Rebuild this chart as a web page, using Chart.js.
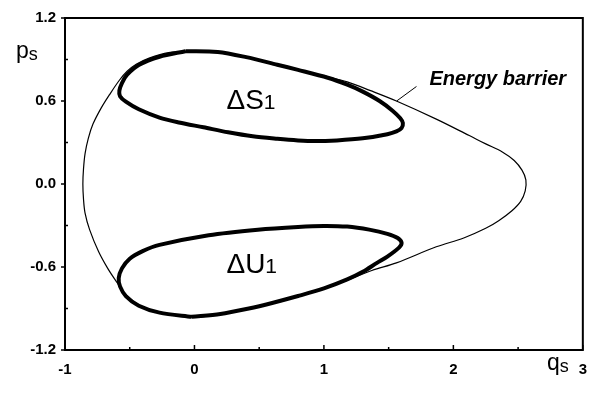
<!DOCTYPE html>
<html>
<head>
<meta charset="utf-8">
<script src="https://cdn.jsdelivr.net/npm/chart.js@4/dist/chart.umd.min.js"></script>
<style>
  html, body { margin: 0; padding: 0; background: #fff; }
  canvas { display: block; }
</style>
</head>
<body>
<canvas id="phaseChart" width="598" height="395"></canvas>
<script>
// energy barrier (thin closed curve), starting at the top, going round the left side
const barrierQ = [0.00, -0.20, -0.35, -0.45, -0.52, -0.58, -0.656, -0.72, -0.784, -0.82, -0.845, -0.857, -0.862, -0.857, -0.845, -0.81, -0.74, -0.67, -0.60, -0.54, -0.47, -0.38, -0.25, -0.02,
    0.20, 0.42, 0.60, 0.80, 1.00, 1.18, 1.37, 1.56, 1.868, 2.08, 2.25, 2.35, 2.45, 2.52, 2.555, 2.56, 2.53, 2.47, 2.378, 2.25, 2.123, 1.868, 1.56, 1.36, 1.18, 1.03, 0.80, 0.64, 0.40, 0.18, 0.00];
const barrierP = [0.962, 0.95, 0.91, 0.865, 0.815, 0.75, 0.646, 0.55, 0.433, 0.33, 0.22, 0.11, 0.00, -0.11, -0.21, -0.33, -0.49, -0.61, -0.71, -0.79, -0.85, -0.90, -0.935, -0.962,
    -0.942, -0.902, -0.862, -0.812, -0.755, -0.695, -0.625, -0.57, -0.454, -0.39, -0.32, -0.265, -0.195, -0.125, -0.05, 0.03, 0.10, 0.17, 0.232, 0.29, 0.35, 0.469, 0.60, 0.675, 0.738, 0.775, 0.825, 0.862, 0.917, 0.957, 0.962];

// ΔS1 loop, starting at its top
const upperLoopQ = [-0.07, 0.18, 0.40, 0.64, 0.80, 1.03, 1.18, 1.30, 1.43, 1.53, 1.59, 1.61, 1.60, 1.56, 1.49, 1.30, 1.10, 0.93, 0.80, 0.64, 0.45, 0.26, 0.07, -0.12, -0.27, -0.43, -0.53, -0.575, -0.58, -0.56, -0.52, -0.43, -0.27, -0.07];
const upperLoopP = [0.96, 0.955, 0.917, 0.862, 0.825, 0.768, 0.718, 0.668, 0.60, 0.53, 0.475, 0.44, 0.405, 0.38, 0.36, 0.33, 0.315, 0.31, 0.315, 0.327, 0.345, 0.374, 0.41, 0.445, 0.48, 0.54, 0.595, 0.635, 0.675, 0.73, 0.79, 0.86, 0.92, 0.96];

// ΔU1 loop, starting at its bottom
const lowerLoopQ = [-0.02, -0.27, -0.43, -0.53, -0.575, -0.585, -0.56, -0.50, -0.40, -0.27, 0.11, 0.49, 0.80, 1.00, 1.18, 1.35, 1.49, 1.57, 1.60, 1.58, 1.49, 1.41, 1.30, 1.18, 1.00, 0.80, 0.60, 0.42, 0.20, -0.02];
const lowerLoopP = [-0.96, -0.93, -0.88, -0.81, -0.74, -0.68, -0.61, -0.54, -0.485, -0.44, -0.37, -0.33, -0.31, -0.303, -0.308, -0.33, -0.36, -0.39, -0.425, -0.46, -0.525, -0.57, -0.635, -0.69, -0.755, -0.81, -0.86, -0.90, -0.94, -0.96];

// pointer from the label to the barrier curve
const pointerQ = [1.562, 1.715];
const pointerP = [0.60, 0.705];

const xTicks = [-1, 0, 1, 2, 3];
const yTicks = [-1.2, -0.6, 0.0, 0.6, 1.2];
const xMinor = [-0.5, 0.5, 1.5, 2.5];
const yMinor = [-0.9, -0.3, 0.3, 0.9];

function toPoints(qs, ps) {
    return qs.map((q, i) => ({ x: q, y: ps[i] }));
}

const FONT = "'Liberation Sans', Arial, sans-serif";
Chart.defaults.font.family = FONT;
Chart.defaults.color = "#000";

const decor = {
    id: "decor",
    afterDatasetsDraw(chart) {
        const ctx = chart.ctx;
        const { left, right, top, bottom } = chart.chartArea;
        const xs = chart.scales.x;
        const ys = chart.scales.y;
        ctx.save();
        ctx.strokeStyle = "#000";
        ctx.lineWidth = 2;
        ctx.strokeRect(left, top, right - left, bottom - top);

        ctx.lineWidth = 1.5;
        ctx.beginPath();
        yTicks.forEach(v => { const y = ys.getPixelForValue(v); ctx.moveTo(left - 4, y); ctx.lineTo(left, y); });
        yMinor.forEach(v => { const y = ys.getPixelForValue(v); ctx.moveTo(left, y); ctx.lineTo(left + 3, y); });
        xTicks.forEach(v => { const x = xs.getPixelForValue(v); ctx.moveTo(x, bottom); ctx.lineTo(x, bottom - 5); });
        xMinor.forEach(v => { const x = xs.getPixelForValue(v); ctx.moveTo(x, bottom); ctx.lineTo(x, bottom - 3); });
        ctx.stroke();

        ctx.fillStyle = "#000";
        ctx.textBaseline = "alphabetic";
        ctx.textAlign = "left";

        function subText(main, sub, x, y, bigSize, smallSize, dy) {
            ctx.font = bigSize + "px " + FONT;
            ctx.fillText(main, x, y);
            const w = ctx.measureText(main).width;
            ctx.font = smallSize + "px " + FONT;
            ctx.fillText(sub, x + w, y + dy);
        }

        subText("\u0394S", "1", xs.getPixelForValue(0.247), ys.getPixelForValue(0.54), 28, 21, 0);
        subText("\u0394U", "1", xs.getPixelForValue(0.247), ys.getPixelForValue(-0.646), 28, 21, 0);

        ctx.font = "italic bold 20px " + FONT;
        ctx.fillText("Energy barrier", xs.getPixelForValue(1.815), ys.getPixelForValue(0.717));

        // axis titles
        subText("p", "s", 16, 58, 23, 18, 2);
        subText("q", "s", 547, 370, 23, 18, 2);
        ctx.restore();
    }
};

new Chart(document.getElementById("phaseChart"), {
    type: "scatter",
    data: {
        datasets: [
            {
                data: toPoints(barrierQ, barrierP),
                showLine: true,
                borderColor: "#000",
                borderWidth: 1.2,
                pointRadius: 0,
                tension: 0.35
            },
            {
                data: toPoints(upperLoopQ, upperLoopP),
                showLine: true,
                borderColor: "#000",
                borderWidth: 4,
                pointRadius: 0,
                tension: 0.3
            },
            {
                data: toPoints(lowerLoopQ, lowerLoopP),
                showLine: true,
                borderColor: "#000",
                borderWidth: 4,
                pointRadius: 0,
                tension: 0.3
            },
            {
                data: toPoints(pointerQ, pointerP),
                showLine: true,
                borderColor: "#000",
                borderWidth: 1,
                pointRadius: 0
            }
        ]
    },
    options: {
        responsive: false,
        animation: false,
        devicePixelRatio: 1,
        layout: { padding: { top: 12, right: 10, left: 0, bottom: 0 } },
        plugins: { legend: { display: false }, tooltip: { enabled: false } },
        scales: {
            x: {
                type: "linear",
                min: -1,
                max: 3,
                afterFit: s => { s.height = 45; },
                afterBuildTicks: s => { s.ticks = xTicks.map(v => ({ value: v })); },
                grid: { display: false, drawTicks: false },
                border: { display: false },
                ticks: {
                    padding: 11,
                    font: { size: 15, weight: "bold" },
                    color: "#000",
                    callback: v => String(v)
                }
            },
            y: {
                type: "linear",
                min: -1.2,
                max: 1.2,
                afterFit: s => { s.width = 65; },
                afterBuildTicks: s => { s.ticks = yTicks.map(v => ({ value: v })); },
                grid: { display: false, drawTicks: false },
                border: { display: false },
                ticks: {
                    padding: 9,
                    font: { size: 15, weight: "bold" },
                    color: "#000",
                    callback: v => v.toFixed(1)
                }
            }
        }
    },
    plugins: [decor]
});
</script>
</body>
</html>
